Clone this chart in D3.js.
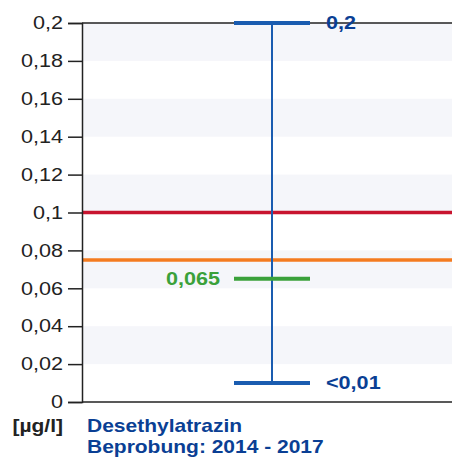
<!DOCTYPE html>
<html>
<head>
<meta charset="utf-8">
<script src="https://cdn.jsdelivr.net/npm/d3@7"></script>
<style>
  body { margin: 0; background: #fff; }
  svg { display: block; font-family: "Liberation Sans", Arial, sans-serif; }
</style>
</head>
<body>
<svg width="452" height="459"></svg>
<script>
// values
const yTicks = [0, 0.02, 0.04, 0.06, 0.08, 0.1, 0.12, 0.14, 0.16, 0.18, 0.2];
const bands = [[0.02, 0.04], [0.06, 0.08], [0.10, 0.12], [0.14, 0.16], [0.18, 0.2]];
const limits = [
  { value: 0.1, color: '#c8142f' },
  { value: 0.075, color: '#f47b20' }
];
const maxVal = 0.2, minVal = 0.01, meanVal = 0.065;
const maxLabel = '0,2', minLabel = '<0,01', meanLabel = '0,065';
const substance = 'Desethylatrazin';
const period = 'Beprobung: 2014 - 2017';

const svg = d3.select('svg');
const plot = { left: 82, right: 452, top: 23, bottom: 402 };
const stretch = 1.2; // the scan is a bit wider than tall

const y = d3.scaleLinear().domain([0, 0.2]).range([plot.bottom, plot.top]);
const fmt = d => String(d).replace('.', ',');

// text that is stretched sideways like the original
const label = (x, yy, txt, opts) => {
  const o = Object.assign({ size: 17.5, bold: true, fill: '#222', anchor: 'start', dy: 0 }, opts);
  return svg.append('text')
    .attr('transform', `translate(${x},${yy}) scale(${stretch},1)`)
    .attr('dy', o.dy)
    .attr('text-anchor', o.anchor)
    .attr('font-size', o.size)
    .attr('font-weight', o.bold ? 'bold' : 'normal')
    .attr('fill', o.fill)
    .text(txt);
};

// background stripes
svg.append('g').selectAll('rect').data(bands)
  .enter().append('rect')
    .attr('x', plot.left + 1)
    .attr('width', plot.right - plot.left)
    .attr('y', d => y(d[1]))
    .attr('height', d => y(d[0]) - y(d[1]))
    .attr('fill', '#f5f6fa');

// top frame line
svg.append('line')
  .attr('x1', plot.left).attr('x2', plot.right)
  .attr('y1', y(0.2)).attr('y2', y(0.2))
  .attr('stroke', '#222').attr('stroke-width', 1.5);

// limit lines
svg.append('g').selectAll('line').data(limits)
  .enter().append('line')
    .attr('x1', plot.left).attr('x2', plot.right)
    .attr('y1', d => y(d.value)).attr('y2', d => y(d.value))
    .attr('stroke', d => d.color)
    .attr('stroke-width', 3.5);

// y axis
const axisG = svg.append('g')
  .attr('transform', `translate(${plot.left},0)`)
  .call(d3.axisLeft(y).tickValues(yTicks).tickFormat(fmt).tickSize(14).tickPadding(5));
axisG.select('.domain').attr('stroke', '#222').attr('stroke-width', 1.5);
axisG.selectAll('.tick line').attr('stroke', '#222').attr('stroke-width', 1.5);
axisG.selectAll('.tick text')
  .attr('x', null)
  .attr('transform', `translate(-19,0) scale(${stretch},1)`)
  .attr('font-size', 18)
  .attr('fill', '#222')
  .attr('font-family', '"Liberation Sans", Arial, sans-serif');

// bottom axis line
svg.append('line')
  .attr('x1', plot.left).attr('x2', plot.right)
  .attr('y1', y(0)).attr('y2', y(0))
  .attr('stroke', '#222').attr('stroke-width', 1.5);

// range bar
const cx = 272, capW = 38;
const blue = '#1a5cb0', darkBlue = '#0a3f94', green = '#3aa13a';

svg.append('line')
  .attr('x1', cx).attr('x2', cx)
  .attr('y1', y(maxVal)).attr('y2', y(minVal))
  .attr('stroke', blue).attr('stroke-width', 2);

const caps = [
  { v: maxVal, color: blue },
  { v: minVal, color: blue },
  { v: meanVal, color: green }
];
svg.append('g').selectAll('line').data(caps)
  .enter().append('line')
    .attr('x1', cx - capW).attr('x2', cx + capW)
    .attr('y1', d => y(d.v)).attr('y2', d => y(d.v))
    .attr('stroke', d => d.color)
    .attr('stroke-width', 4);

// value labels
label(326, y(maxVal), maxLabel, { size: 18, fill: darkBlue, dy: '0.35em' });
label(326, y(minVal), minLabel, { size: 18, fill: darkBlue, dy: '0.35em' });
label(220, y(meanVal), meanLabel, { size: 18, fill: green, dy: '0.35em', anchor: 'end' });

// captions
label(63, 432, '[µg/l]', { anchor: 'end' });
label(87, 432, substance, { fill: darkBlue });
label(87, 453, period, { fill: darkBlue });
</script>
</body>
</html>
